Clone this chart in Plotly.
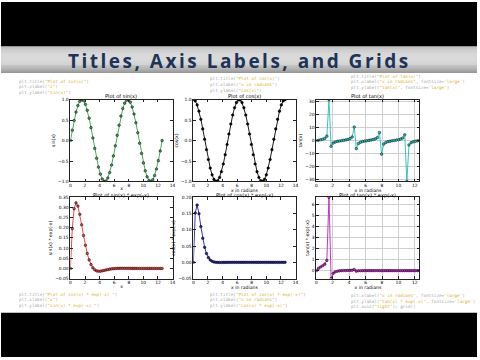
import plotly.graph_objects as go

# ---------------- data ----------------
x_vals = [0.0, 0.2565, 0.5129, 0.7694, 1.0258, 1.2823, 1.5387, 1.7952, 2.0517, 2.3081,
          2.5646, 2.8210, 3.0775, 3.3339, 3.5904, 3.8469, 4.1033, 4.3598, 4.6162, 4.8727,
          5.1291, 5.3856, 5.6421, 5.8985, 6.1550, 6.4114, 6.6679, 6.9243, 7.1808, 7.4373,
          7.6937, 7.9502, 8.2066, 8.4631, 8.7195, 8.9760, 9.2325, 9.4889, 9.7454, 10.0018,
          10.2583, 10.5147, 10.7712, 11.0277, 11.2841, 11.5406, 11.7970, 12.0535, 12.3099, 12.5664]

sin_y = [0.0, 0.2536, 0.4907, 0.6957, 0.8551, 0.9587, 0.9995, 0.9749, 0.8866, 0.7403,
         0.5455, 0.3151, 0.0641, -0.1912, -0.4339, -0.6482, -0.8202, -0.9385, -0.9954, -0.9872,
         -0.9144, -0.7818, -0.5981, -0.3753, -0.1279, 0.1279, 0.3753, 0.5981, 0.7818, 0.9144,
         0.9872, 0.9954, 0.9385, 0.8202, 0.6482, 0.4339, 0.1912, -0.0641, -0.3151, -0.5455,
         -0.7403, -0.8866, -0.9749, -0.9995, -0.9587, -0.8551, -0.6957, -0.4907, -0.2536, 0.0]

cos_y = [1.0, 0.9673, 0.8713, 0.7184, 0.5184, 0.2845, 0.0321, -0.2225, -0.4625, -0.6723,
         -0.8381, -0.9491, -0.9979, -0.9816, -0.9010, -0.7615, -0.5721, -0.3454, -0.0960, 0.1596,
         0.4048, 0.6235, 0.8014, 0.9269, 0.9918, 0.9918, 0.9269, 0.8014, 0.6235, 0.4048,
         0.1596, -0.0960, -0.3454, -0.5721, -0.7615, -0.9010, -0.9816, -0.9979, -0.9491, -0.8381,
         -0.6723, -0.4625, -0.2225, 0.0321, 0.2845, 0.5184, 0.7184, 0.8713, 0.9673, 1.0]

tan_y = [0.0, 0.2622, 0.5632, 0.9684, 1.6495, 3.3692, 31.18, -4.381, -1.9168, -1.1011,
         -0.6509, -0.3320, -0.0642, 0.1947, 0.4816, 0.8513, 1.4336, 2.7174, 10.366, -6.185,
         -2.2590, -1.2540, -0.7463, -0.4049, -0.1289, 0.1289, 0.4049, 0.7463, 1.2540, 2.2590,
         6.185, -10.366, -2.7174, -1.4336, -0.8513, -0.4816, -0.1947, 0.0642, 0.3320, 0.6509,
         1.1011, 1.9168, 4.381, -31.18, -3.3692, -1.6495, -0.9684, -0.5632, -0.2622, 0.0]

sinexp_y = [0.0, 0.1962, 0.2938, 0.3223, 0.3066, 0.2659, 0.2145, 0.1619, 0.1139, 0.0736,
            0.0420, 0.0188, 0.0030, -0.0068, -0.0120, -0.0138, -0.0136, -0.0120, -0.0098, -0.0076,
            -0.0054, -0.0036, -0.0021, -0.0010, -0.0003, 0.0002, 0.0005, 0.0006, 0.0006, 0.0005,
            0.0004, 0.0004, 0.0003, 0.0002, 0.0001, 0.0001, 0.0, 0.0, 0.0, 0.0,
            0.0, 0.0, 0.0, 0.0, 0.0, 0.0, 0.0, 0.0, 0.0, 0.0]

cosexp_y = [0.0, 0.1518, 0.1759, 0.1493, 0.1099, 0.0738, 0.0460, 0.0269, 0.0146, 0.0073,
            0.0032, 0.0011, 0.0001, -0.0002, -0.0003, -0.0003, -0.0002, -0.0002, -0.0001, -0.0001,
            0.0, 0.0, 0.0, 0.0, 0.0, 0.0, 0.0, 0.0, 0.0, 0.0,
            0.0, 0.0, 0.0, 0.0, 0.0, 0.0, 0.0, 0.0, 0.0, 0.0,
            0.0, 0.0, 0.0, 0.0, 0.0, 0.0, 0.0, 0.0, 0.0, 0.0]

tanexp_y = [0.0, 0.2029, 0.3372, 0.4487, 0.5913, 0.9346, 6.693, -0.7277, -0.2463, -0.1095,
            -0.0501, -0.0198, -0.0030, 0.0069, 0.0133, 0.0182, 0.0237, 0.0347, 0.1025, -0.0473,
            -0.0134, -0.0057, -0.0026, -0.0011, -0.0003, 0.0002, 0.0005, 0.0007, 0.0010, 0.0013,
            0.0028, -0.0037, -0.0007, -0.0003, -0.0001, -0.0001, 0.0, 0.0, 0.0, 0.0,
            0.0, 0.0001, 0.0001, -0.0005, 0.0, 0.0, 0.0, 0.0, 0.0, 0.0]

series = [sin_y, cos_y, tan_y, sinexp_y, cosexp_y, tanexp_y]
titles = ["Plot of sin(x)", "Plot of cos(x)", "Plot of tan(x)",
          "Plot of sin(x) * exp(-x)", "Plot of cos(x) * exp(-x)", "Plot of tan(x) * exp(-x)"]
xlabels = ["x", "x in radians", "x in radians", "x", "x in radians", "x in radians"]
ylabels = ["sin(x)", "cos(x)", "tan(x)", "sin(x) * exp(-x)", "cos(x) * exp(-x)", "tan(x) * exp(-x)"]
line_colors = ["#3c9a52", "#000000", "#22bcbc", "#e03a3a", "#22229c", "#bb22bb"]
y_ticks = [0.5, 0.5, 10, 0.05, 0.05, 1]
y_formats = [".1f", ".1f", "d", ".2f", ".2f", "d"]
y_fixed = [[-1, 1], [-1, 1], None, [-0.05, 0.35], [-0.05, 0.20], None]
tight = [False, False, True, False, False, True]
x_fixed = [0, 14]

main_title = "Titles, Axis Labels, and Grids"
code_blocks = [
    ['plt.title(<S>"Plot of sin(x)"</S>)', 'plt.xlabel(<S>"x"</S>)', 'plt.ylabel(<S>"sin(x)"</S>)'],
    ['plt.title(<S>"Plot of cos(x)"</S>)', 'plt.xlabel(<S>"x in radians"</S>)', 'plt.ylabel(<S>"cos(x)"</S>)'],
    ['plt.title(<S>"Plot of tan(x)"</S>)', 'plt.xlabel(<S>"x in radians"</S>, fontsize=<S>\'large\'</S>)',
     'plt.ylabel(<S>"tan(x)"</S>, fontsize=<S>\'large\'</S>)'],
    ['plt.title(<S>"Plot of sin(x) * exp(-x) "</S>)', 'plt.xlabel(<S>"x"</S>)', 'plt.ylabel(<S>"sin(x) * exp(-x) "</S>)'],
    ['plt.title(<S>"Plot of cos(x) * exp(-x)"</S>)', 'plt.xlabel(<S>"x in radians"</S>)', 'plt.ylabel(<S>"cos(x) * exp(-x)"</S>)'],
    ['plt.xlabel(<S>"x in radians"</S>, fontsize=<S>\'large\'</S>)', 'plt.ylabel(<S>"tan(x) * exp(-x)"</S>, fontsize=<S>\'large\'</S>)',
     'plt.axis(<S>"tight"</S>); grid()'],
]

# ---------------- layout geometry (pixels) ----------------
W, H = 480, 360
cols = [(70, 173), (194, 297), (318, 422)]
rows = [(99, 182), (198, 280.5)]
title_centers = [95.5, 196.0]
code_pos = [(17, [80.5, 86, 91.5]), (210, [77.5, 83.5, 89.5]), (352, [75.5, 81, 86.5]),
            (17, [296.5, 302, 307.5]), (210, [296.5, 302, 307.5]), (352, [298, 303.5, 309])]


def px_x(p):
    return p / W


def px_y(p):
    return 1 - p / H


fig = go.Figure()
layout = dict(width=W, height=H, margin=dict(l=0, r=0, t=0, b=0),
              paper_bgcolor="white", plot_bgcolor="white", showlegend=False)
annotations = []
shapes = []

FONT = "DejaVu Sans"
for i in range(6):
    r, c = divmod(i, 3)
    n = "" if i == 0 else str(i + 1)
    ys = series[i]
    fig.add_trace(go.Scatter(
        x=x_vals, y=ys, mode="lines+markers",
        line=dict(color=line_colors[i], width=0.9),
        marker=dict(size=2.6, color=line_colors[i], line=dict(color="black", width=0.45)),
        xaxis="x" + n, yaxis="y" + n, hoverinfo="skip"))
    if tight[i]:
        xr = [min(x_vals), max(x_vals)]
        yr = [min(ys), max(ys)]
    else:
        xr = x_fixed
        yr = y_fixed[i]
    common = dict(showline=True, linecolor="#222", linewidth=0.8, mirror="ticks",
                  ticks="inside", ticklen=2.5, tickwidth=0.6, tickcolor="#222",
                  zeroline=False, showgrid=tight[i], gridcolor="#cfcfcf", gridwidth=0.6,
                  tickfont=dict(family=FONT, size=4.4, color="black"))
    layout["xaxis" + n] = dict(common, domain=[px_x(cols[c][0]), px_x(cols[c][1])],
                               anchor="y" + n, range=xr, dtick=2, tick0=0,
                               ticklabelstandoff=-1,
                               title=dict(text=xlabels[i], font=dict(family=FONT, size=4.6, color="black"),
                                          standoff=0))
    layout["yaxis" + n] = dict(common, domain=[px_y(rows[r][1]), px_y(rows[r][0])],
                               anchor="x" + n, range=yr, dtick=y_ticks[i], tick0=0,
                               tickformat=y_formats[i],
                               title=dict(text=ylabels[i], font=dict(family=FONT, size=4.6, color="black"),
                                          standoff=2))
    annotations.append(dict(text=titles[i], xref="paper", yref="paper",
                            x=px_x((cols[c][0] + cols[c][1]) / 2), y=px_y(title_centers[r]),
                            xanchor="center", yanchor="middle", showarrow=False, borderpad=0,
                            font=dict(family=FONT, size=5.1, color="black")))

# code snippets
for blk, (cx, cys) in zip(code_blocks, code_pos):
    for line, cy in zip(blk, cys):
        txt = line.replace("<S>", '<span style="color:#dcb020">').replace("</S>", "</span>")
        annotations.append(dict(text=txt, xref="paper", yref="paper", x=px_x(cx), y=px_y(cy),
                                xanchor="left", yanchor="middle", showarrow=False, borderpad=0,
                                font=dict(family="DejaVu Sans Mono", size=4.3, color="#a8a8a8")))

# black bars
shapes.append(dict(type="rect", xref="paper", yref="paper", x0=0, x1=1, y0=px_y(45), y1=1,
                   fillcolor="black", line=dict(width=0), layer="below"))
shapes.append(dict(type="rect", xref="paper", yref="paper", x0=0, x1=1, y0=0, y1=px_y(315),
                   fillcolor="black", line=dict(width=0), layer="below"))
# gray gradient band (45..72 px)
stops = [(45, 0xac), (48, 0xc0), (53, 0xd0), (58, 0xd2), (63, 0xc8), (67, 0xb6), (70, 0xa0), (72, 0x90)]
for yy in range(45, 72):
    for (a, ca), (b, cb) in zip(stops[:-1], stops[1:]):
        if a <= yy < b:
            v = int(round(ca + (cb - ca) * (yy - a) / (b - a)))
            break
    col = "#%02x%02x%02x" % (v, v, v)
    shapes.append(dict(type="rect", xref="paper", yref="paper", x0=0, x1=1,
                       y0=px_y(yy + 1), y1=px_y(yy), fillcolor=col, line=dict(width=0), layer="below"))

annotations.append(dict(text='<span style="letter-spacing:2.5px"><b>' + main_title + '</b></span>',
                        xref="paper", yref="paper", x=0.5, y=px_y(59.5),
                        xanchor="center", yanchor="middle", showarrow=False,
                        font=dict(family="Open Sans", size=19, color="#1d3458")))

layout["annotations"] = annotations
layout["shapes"] = shapes
fig.update_layout(**layout)
fig.write_html("out.html")
